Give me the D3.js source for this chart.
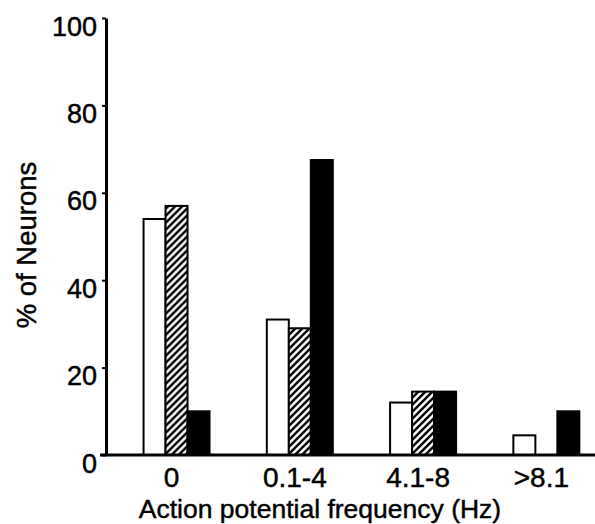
<!DOCTYPE html>
<html>
<head>
<meta charset="utf-8">
<script src="https://cdn.jsdelivr.net/npm/d3@7"></script>
<style>
  html, body { margin: 0; padding: 0; background: #fff; }
  svg { display: block; }
  text { font-family: "Liberation Sans", Arial, Helvetica, sans-serif; fill: #000; stroke: #000; stroke-width: 0.45px; }
</style>
</head>
<body>
<svg id="chart" width="595" height="524"></svg>
<script>
// ---- data ----
const categories = ["0", "0.1-4", "4.1-8", ">8.1"];
const seriesNames = ["open", "hatched", "filled"];
const openValues    = [54, 31, 12, 4.5];
const hatchedValues = [57, 29, 14.5, 0];
const filledValues  = [10, 67.5, 14.5, 10];
const yTicks = [0, 20, 40, 60, 80, 100];
const xTitle = "Action potential frequency (Hz)";
const yTitle = "% of Neurons";

const svg = d3.select("#chart");

// pattern for hatched bars
const defs = svg.append("defs");
const pat = defs.append("pattern")
  .attr("id", "hatch")
  .attr("patternUnits", "userSpaceOnUse")
  .attr("width", 7).attr("height", 7);
pat.append("rect").attr("width", 7).attr("height", 7).attr("fill", "#fff");
pat.append("path")
  .attr("d", "M-1,1 l2,-2 M0,7 l7,-7 M6,8 l2,-2")
  .attr("stroke", "#000").attr("stroke-width", 2.4);

const axisX = 106, baseY = 455, topY = 18;
const fontStack = "'Liberation Sans', Arial, Helvetica, sans-serif";

const x0 = d3.scaleBand()
  .domain(categories)
  .range([114.9, 608])
  .paddingInner(0.4647)
  .paddingOuter(0.2324);

const x1 = d3.scaleBand()
  .domain(seriesNames)
  .range([0, x0.bandwidth()])
  .padding(0);

const y = d3.scaleLinear().domain([0, 100]).range([baseY, topY]);

const rows = categories.map((c, i) => ({
  cat: c,
  vals: [
    { key: "open", v: openValues[i] },
    { key: "hatched", v: hatchedValues[i] },
    { key: "filled", v: filledValues[i] }
  ]
}));

const fills = { open: "#fff", hatched: "url(#hatch)", filled: "#000" };

// bars
const groups = svg.append("g").selectAll("g")
  .data(rows).join("g")
  .attr("transform", d => `translate(${x0(d.cat)},0)`);

groups.selectAll("rect")
  .data(d => d.vals.filter(v => v.v > 0))
  .join("rect")
  .attr("x", d => x1(d.key))
  .attr("y", d => y(d.v))
  .attr("width", x1.bandwidth())
  .attr("height", d => baseY - y(d.v))
  .attr("fill", d => fills[d.key])
  .attr("stroke", "#000")
  .attr("stroke-width", 2);

// y axis
const yAxis = svg.append("g")
  .attr("transform", `translate(${axisX},0)`)
  .call(d3.axisLeft(y).tickValues(yTicks).tickSize(4).tickSizeOuter(0).tickPadding(5));
yAxis.select(".domain").attr("stroke-width", 3);
yAxis.selectAll(".tick line").attr("stroke-width", 2);
yAxis.selectAll(".tick text")
  .attr("dy", 17)
  .style("font-size", "27px")
  .style("font-family", fontStack);

// x axis baseline
svg.append("line")
  .attr("x1", 100).attr("x2", 595)
  .attr("y1", baseY).attr("y2", baseY)
  .attr("stroke", "#000").attr("stroke-width", 3);

// x tick labels
const xAxis = svg.append("g")
  .attr("transform", `translate(0,${baseY})`)
  .call(d3.axisBottom(x0).tickSize(0).tickPadding(0));
xAxis.select(".domain").remove();
xAxis.selectAll(".tick text")
  .attr("x", -5)
  .attr("y", 32)
  .attr("dy", 0)
  .style("font-size", "28px")
  .style("font-family", fontStack);

// titles
svg.append("text")
  .attr("x", 320).attr("y", 518)
  .attr("text-anchor", "middle")
  .style("font-size", "26.5px")
  .text(xTitle);

svg.append("text")
  .attr("transform", "translate(36,245) rotate(-90)")
  .attr("text-anchor", "middle")
  .style("font-size", "27.5px")
  .text(yTitle);
</script>
</body>
</html>
